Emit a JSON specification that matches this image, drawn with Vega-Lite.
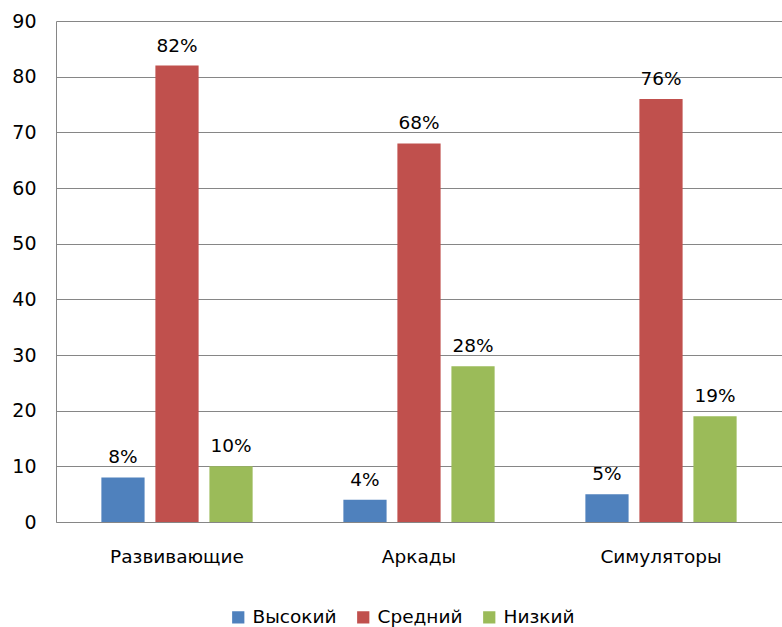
{
  "$schema": "https://vega.github.io/schema/vega-lite/v6.json",
  "width": 726,
  "height": 501,
  "autosize": {"type": "none"},
  "padding": {"left": 56, "top": 21, "right": 0, "bottom": 105},
  "background": "white",
  "config": {
    "view": {"stroke": null},
    "font": "DejaVu Sans",
    "text": {"font": "DejaVu Sans"}
  },
  "data": {
    "values": [
      {"genre": "Развивающие", "level": "Высокий", "value": 8},
      {"genre": "Развивающие", "level": "Средний", "value": 82},
      {"genre": "Развивающие", "level": "Низкий", "value": 10},
      {"genre": "Аркады", "level": "Высокий", "value": 4},
      {"genre": "Аркады", "level": "Средний", "value": 68},
      {"genre": "Аркады", "level": "Низкий", "value": 28},
      {"genre": "Симуляторы", "level": "Высокий", "value": 5},
      {"genre": "Симуляторы", "level": "Средний", "value": 76},
      {"genre": "Симуляторы", "level": "Низкий", "value": 19}
    ]
  },
  "transform": [{"calculate": "datum.value + '%'", "as": "label"}],
  "encoding": {
    "x": {
      "field": "genre",
      "type": "nominal",
      "sort": ["Развивающие", "Аркады", "Симуляторы"],
      "scale": {"paddingInner": 0, "paddingOuter": 0},
      "axis": {
        "title": null,
        "labelAngle": 0,
        "labelFontSize": 18.5,
        "labelColor": "#000000",
        "labelPadding": 25,
        "ticks": false,
        "domainColor": "#868686",
        "domainWidth": 1
      }
    },
    "xOffset": {
      "field": "level",
      "type": "nominal",
      "sort": ["Высокий", "Средний", "Низкий"],
      "scale": {"paddingInner": 0.2, "paddingOuter": 0.84}
    },
    "y": {
      "field": "value",
      "type": "quantitative",
      "scale": {"domain": [0, 90], "nice": false},
      "axis": {
        "title": null,
        "values": [0, 10, 20, 30, 40, 50, 60, 70, 80, 90],
        "labelFontSize": 19,
        "labelColor": "#000000",
        "labelPadding": 20,
        "ticks": false,
        "grid": true,
        "gridColor": "#868686",
        "gridWidth": 1,
        "domainColor": "#868686",
        "domainWidth": 1
      }
    }
  },
  "layer": [
    {
      "mark": {"type": "bar"},
      "encoding": {
        "color": {
          "field": "level",
          "type": "nominal",
          "sort": ["Высокий", "Средний", "Низкий"],
          "scale": {
            "domain": ["Высокий", "Средний", "Низкий"],
            "range": ["#4F81BD", "#C0504D", "#9BBB59"]
          },
          "legend": {
            "title": null,
            "orient": "none",
            "direction": "horizontal",
            "legendX": 173,
            "legendY": 587,
            "symbolType": "square",
            "symbolSize": 150,
            "symbolStrokeWidth": 0,
            "labelFontSize": 18.5,
            "labelColor": "#000000",
            "labelOffset": 5,
            "columnPadding": 17
          }
        }
      }
    },
    {
      "mark": {"type": "text", "baseline": "alphabetic", "dy": -14, "fontSize": 18.5, "color": "#000000"},
      "encoding": {"text": {"field": "label"}}
    }
  ]
}
